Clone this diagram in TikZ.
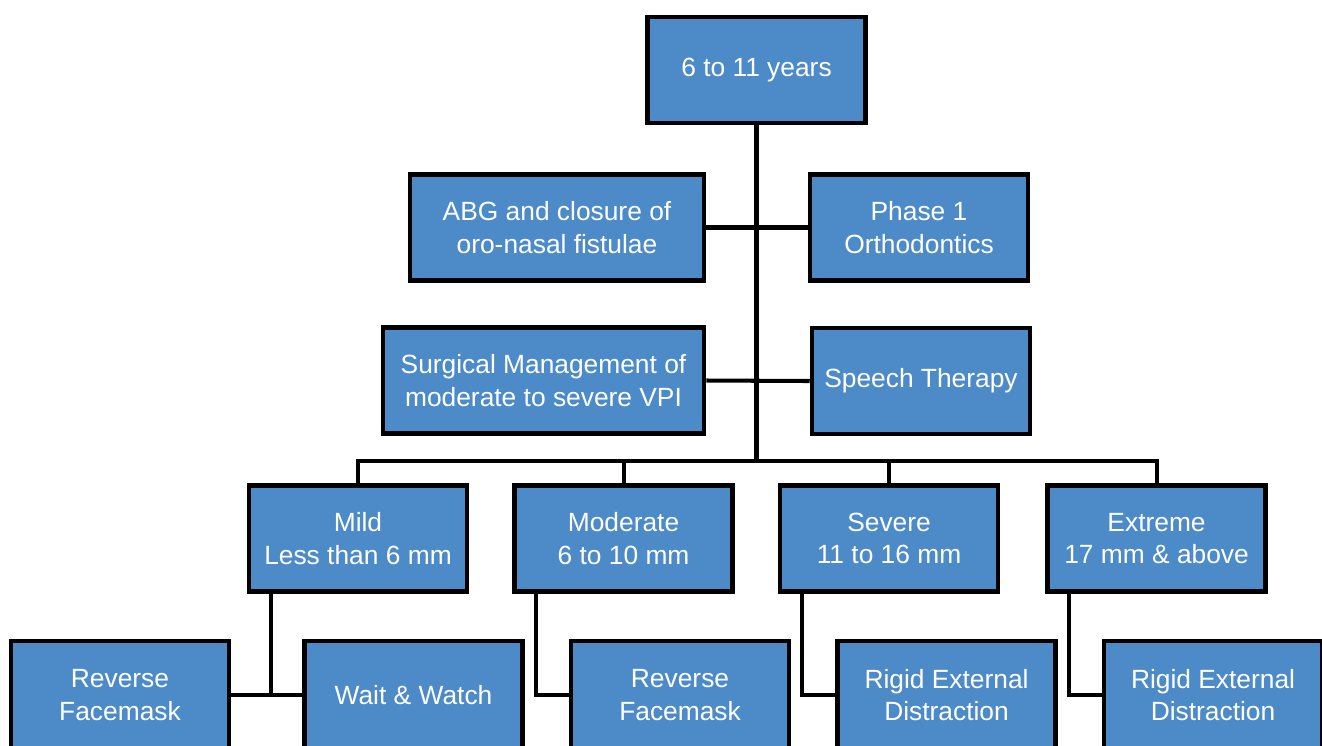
\documentclass[tikz,border=0pt]{standalone}
\usepackage{fontspec}
\setmainfont{Liberation Sans}
\usetikzlibrary{positioning,calc}
\definecolor{boxblue}{RGB}{76,139,200}

\begin{document}
\begin{tikzpicture}[
  x=0.02cm, y=-0.02cm,
  box/.style={draw=black, line width=2.6pt, fill=boxblue, text=white, align=center,
    inner sep=2pt, font=\fontsize{15}{18.3}\selectfont,
    minimum width=4.36cm, minimum height=2.12cm},
  link/.style={line width=2.3pt}
]
\useasboundingbox (0,0) rectangle (1322,745);
% top and the two middle rows
\node[box] (age) at (756.5,70) {6 to 11 years};
\node[box, minimum width=5.88cm] (abg) at (557,227.5) {ABG and closure of\\ oro-nasal fistulae};
\node[box] (phase) at (919,227.5) {Phase 1\\ Orthodontics};
\node[box, minimum width=6.42cm] (surg) at (543.5,380.5) {Surgical Management of\\ moderate to severe VPI};
\node[box] (speech) at (921,381) {Speech Therapy};
% severity row
\node[box] (mild) at (358,538.5) {Mild\\ Less than 6 mm};
\node[box, right=0.86cm of mild] (moderate) {Moderate\\ 6 to 10 mm};
\node[box, right=0.86cm of moderate] (severe) {Severe\\ 11 to 16 mm};
\node[box, right=0.9cm of severe] (extreme) {Extreme\\ 17 mm \& above};
% treatment row
\node[box, minimum height=2.16cm] (rfm1) at (120,695) {Reverse\\ Facemask};
\node[box, minimum height=2.16cm, right=1.42cm of rfm1] (wait) {Wait \& Watch};
\node[box, minimum height=2.16cm, right=0.88cm of wait] (rfm2) {Reverse\\ Facemask};
\node[box, minimum height=2.16cm, right=0.88cm of rfm2] (red1) {Rigid External\\ Distraction};
\node[box, minimum height=2.16cm, right=0.88cm of red1] (red2) {Rigid External\\ Distraction};

\coordinate (bar) at (756.5,461);
\draw[link] (age.south) -- (bar);
\draw[link] (abg.east) -- (phase.west);
\draw[link] (surg.east) -- (speech.west);
\draw[link] (mild.north) |- (bar) -| (extreme.north);
\draw[link] (moderate.north) -- (moderate.north |- bar);
\draw[link] (severe.north) -- (severe.north |- bar);

\draw[link] ($(mild.south west)+(24,0)$) |- (rfm1.east);
\draw[link] (rfm1.east) -- (wait.west);
\draw[link] ($(moderate.south west)+(24,0)$) |- (rfm2.west);
\draw[link] ($(severe.south west)+(24,0)$) |- (red1.west);
\draw[link] ($(extreme.south west)+(24,0)$) |- (red2.west);
\end{tikzpicture}
\end{document}
